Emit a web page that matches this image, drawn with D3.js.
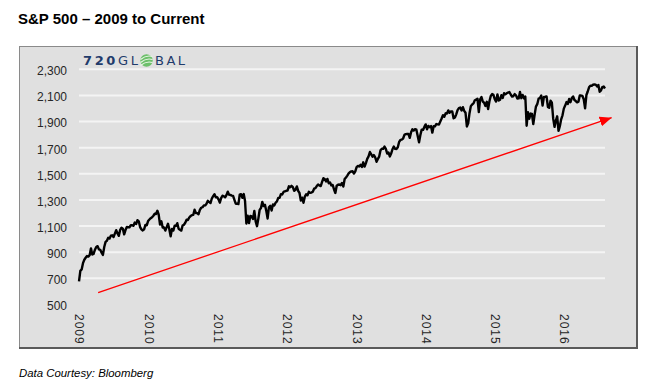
<!DOCTYPE html>
<html>
<head>
<meta charset="utf-8">
<script src="https://cdn.jsdelivr.net/npm/d3@7"></script>
<style>
  body { margin: 0; background: #fff; }
  svg { display: block; }
</style>
</head>
<body>
<svg id="chart" width="649" height="391"></svg>
<script>
// weekly S&P 500 levels, first entry is the 9 Mar 2009 low
const startDate = new Date(2009, 2, 9);
const closes2009 = [677, 757, 768, 816, 842, 857, 870, 866, 877, 929, 882, 887, 919, 940, 946, 921, 918,
  896, 879, 940, 979, 987, 1010, 1004, 1026, 1029, 1016, 1042, 1068, 1044, 1025, 1071, 1087, 1080,
  1036, 1069, 1093, 1091, 1091, 1106, 1106, 1102, 1127];
const closes2010 = [1115, 1145, 1136, 1092, 1074, 1066, 1075, 1109, 1105, 1138, 1150, 1160, 1167, 1179,
  1194, 1192, 1217, 1187, 1111, 1136, 1088, 1089, 1065, 1092, 1117, 1076, 1022, 1078, 1065, 1102, 1101,
  1122, 1079, 1071, 1065, 1104, 1110, 1125, 1148, 1146, 1165, 1176, 1183, 1185, 1225, 1200, 1199, 1190,
  1224, 1240, 1244, 1257];
const closes2011 = [1258, 1271, 1293, 1283, 1276, 1311, 1329, 1343, 1320, 1321, 1304, 1279, 1314, 1332,
  1328, 1320, 1337, 1363, 1340, 1338, 1333, 1331, 1300, 1271, 1271, 1268, 1340, 1344, 1316, 1345, 1292,
  1119, 1179, 1123, 1177, 1174, 1154, 1216, 1136, 1099, 1155, 1224, 1238, 1285, 1253, 1263, 1216, 1158,
  1244, 1255, 1219, 1265];
const closes2012 = [1258, 1278, 1289, 1315, 1316, 1344, 1342, 1361, 1366, 1370, 1371, 1404, 1397, 1408,
  1398, 1370, 1378, 1403, 1369, 1353, 1295, 1317, 1278, 1325, 1343, 1335, 1362, 1354, 1356, 1363, 1386,
  1390, 1406, 1418, 1411, 1406, 1438, 1466, 1460, 1441, 1461, 1428, 1434, 1411, 1414, 1380, 1353, 1409,
  1416, 1418, 1413, 1430, 1402];
const closes2013 = [1460, 1472, 1486, 1503, 1513, 1518, 1519, 1502, 1518, 1551, 1560, 1556, 1569, 1553,
  1588, 1555, 1582, 1614, 1633, 1667, 1649, 1631, 1643, 1626, 1592, 1614, 1632, 1680, 1692, 1691, 1709,
  1691, 1655, 1663, 1633, 1655, 1688, 1709, 1691, 1690, 1703, 1744, 1759, 1762, 1770, 1798, 1804, 1806,
  1805, 1775, 1818, 1841];
const closes2014 = [1831, 1842, 1838, 1790, 1741, 1797, 1838, 1836, 1859, 1878, 1841, 1866, 1857, 1865,
  1815, 1864, 1863, 1881, 1878, 1877, 1900, 1923, 1949, 1936, 1963, 1961, 1985, 1967, 1978, 1978, 1925,
  1931, 1955, 1988, 2003, 2007, 1985, 2010, 1982, 1967, 1862, 1886, 1964, 2018, 2031, 2039, 2063, 2067,
  2075, 1972, 2070, 2088];
const closes2015 = [2053, 2044, 2019, 2051, 1995, 2055, 2096, 2110, 2104, 2071, 2053, 2108, 2061, 2067,
  2102, 2081, 2117, 2108, 2116, 2122, 2126, 2107, 2092, 2094, 2110, 2101, 2076, 2077, 2126, 2079, 2104,
  2077, 2092, 1868, 1972, 1921, 1961, 1958, 1881, 1951, 2014, 2033, 2075, 2079, 2099, 2023, 2089, 2090,
  2092, 2012, 2005, 2060];
const closes2016 = [2044, 1922, 1859, 1907, 1940, 1829, 1864, 1917, 1948, 1999, 2022, 2049, 2035, 2073,
  2048, 2080, 2092, 2065, 2057, 2047, 2052, 2099, 2099, 2096, 2071, 2001, 2103, 2130, 2162, 2175, 2173,
  2182, 2184, 2183, 2169, 2180, 2128, 2139, 2164, 2168, 2153];

const yTicks = [700, 900, 1100, 1300, 1500, 1700, 1900, 2100, 2300];
const yLabels = ["700", "900", "1,100", "1,300", "1,500", "1,700", "1,900", "2,100", "2,300"];
const yearLabels = ["2009", "2010", "2011", "2012", "2013", "2014", "2015", "2016"];

// trend arrow drawn by hand on the original
const arrowFrom = { date: new Date(2009, 5, 18), value: 590 };
const arrowTo = { date: new Date(2016, 10, 14), value: 1930 };

const series = [].concat(closes2009, closes2010, closes2011, closes2012, closes2013, closes2014,
  closes2015, closes2016).map((v, i) => ({ date: d3.timeDay.offset(startDate, 7 * i), value: v }));

const svg = d3.select('#chart');

// title and footer
svg.append('text')
  .attr('x', 18).attr('y', 24)
  .attr('font-family', 'Liberation Sans, Arial, sans-serif')
  .attr('font-size', '15px').attr('font-weight', 'bold')
  .attr('fill', '#000')
  .text('S&P 500 – 2009 to Current');

svg.append('text')
  .attr('x', 19).attr('y', 377)
  .attr('font-family', 'Liberation Sans, Arial, sans-serif')
  .attr('font-size', '11.4px').attr('font-style', 'italic')
  .attr('fill', '#000')
  .text('Data Courtesy: Bloomberg');

// chart panel
svg.append('rect')
  .attr('x', 19.5).attr('y', 46.5).attr('width', 617).attr('height', 301)
  .attr('fill', '#e0e0e0').attr('stroke', '#8a8a8a').attr('stroke-width', 1);
svg.append('path')
  .attr('d', 'M637,46 V348 H19')
  .attr('fill', 'none').attr('stroke', '#5a5a5a').attr('stroke-width', 2);

const x = d3.scaleTime()
  .domain([startDate, series[series.length - 1].date])
  .range([79, 605]);
const y = d3.scaleLinear().domain([500, 2300]).range([304.4, 69.3]);

// gridlines
svg.append('g').selectAll('line')
  .data(yTicks)
  .enter().append('line')
  .attr('x1', 79).attr('x2', 605)
  .attr('y1', d => y(d)).attr('y2', d => y(d))
  .attr('stroke', '#f4f4f4').attr('stroke-width', 2);

// y axis labels
const yAxis = d3.axisLeft(y)
  .tickValues([500].concat(yTicks))
  .tickFormat((d, i) => i === 0 ? '500' : yLabels[i - 1])
  .tickSize(0).tickPadding(0);
const gy = svg.append('g').attr('transform', 'translate(67,1.5)').call(yAxis);
gy.select('.domain').remove();
gy.selectAll('text')
  .attr('font-family', 'Liberation Sans, Arial, sans-serif')
  .attr('font-size', '12px').attr('fill', '#262626');

// x axis labels, one per year from the start date
const yearTicks = yearLabels.map((d, i) => d3.timeYear.offset(startDate, i));
const xAxis = d3.axisBottom(x)
  .tickValues(yearTicks)
  .tickFormat((d, i) => yearLabels[i])
  .tickSize(0).tickPadding(0);
const gx = svg.append('g').attr('transform', 'translate(0,314)').call(xAxis);
gx.select('.domain').remove();
gx.selectAll('text')
  .attr('font-family', 'Liberation Sans, Arial, sans-serif')
  .attr('font-size', '12px').attr('fill', '#262626')
  .attr('letter-spacing', '1px')
  .attr('text-anchor', 'start')
  .attr('transform', 'rotate(90)')
  .attr('x', 0).attr('y', 0).attr('dy', '0.35em');

// price line
const line = d3.line()
  .x(d => x(d.date))
  .y(d => y(d.value));

svg.append('path')
  .datum(series)
  .attr('d', line)
  .attr('fill', 'none')
  .attr('stroke', '#000')
  .attr('stroke-width', 2.4)
  .attr('stroke-linejoin', 'round');

// red trend arrow
svg.append('defs').append('marker')
  .attr('id', 'arrowhead')
  .attr('viewBox', '0 0 12 10')
  .attr('refX', 12).attr('refY', 5)
  .attr('markerWidth', 12).attr('markerHeight', 10)
  .attr('markerUnits', 'userSpaceOnUse')
  .attr('orient', 'auto')
  .append('path')
  .attr('d', 'M0,0 L12,5 L0,10 Z')
  .attr('fill', '#ff0000');

svg.append('line')
  .attr('x1', x(arrowFrom.date)).attr('y1', y(arrowFrom.value))
  .attr('x2', x(arrowTo.date)).attr('y2', y(arrowTo.value))
  .attr('stroke', '#ff0000').attr('stroke-width', 1.3)
  .attr('marker-end', 'url(#arrowhead)');

// 720 Global logo
const logo = svg.append('text')
  .attr('x', 83).attr('y', 65)
  .attr('font-family', 'DejaVu Sans, sans-serif')
  .attr('font-size', '13px')
  .attr('fill', '#1f3b6b')
  .attr('textLength', 55).attr('lengthAdjust', 'spacing');
logo.append('tspan').attr('font-weight', 'bold').text('720');
logo.append('tspan').text('GL');

svg.append('text')
  .attr('x', 155).attr('y', 65)
  .attr('font-family', 'DejaVu Sans, sans-serif')
  .attr('font-size', '13px')
  .attr('fill', '#1f3b6b')
  .attr('textLength', 30).attr('lengthAdjust', 'spacing')
  .text('BAL');

const globe = svg.append('g').attr('transform', 'translate(146.5,60.5)');
globe.append('circle').attr('r', 6.2).attr('fill', '#6cbf6a');
[-3, 0, 3].forEach(off => {
  globe.append('path')
    .attr('d', `M-6,${off + 2} Q0,${off - 3} 6,${off - 1}`)
    .attr('fill', 'none').attr('stroke', '#e8f6e4').attr('stroke-width', 1.1);
});
</script>
</body>
</html>
